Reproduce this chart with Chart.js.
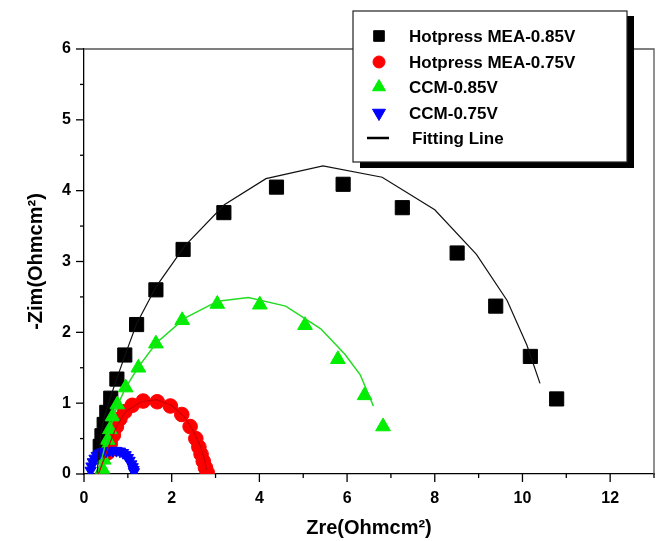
<!DOCTYPE html>
<html>
<head>
<meta charset="utf-8">
<script src="https://cdn.jsdelivr.net/npm/chart.js@4.4.1/dist/chart.umd.min.js"></script>
<style>
html,body{margin:0;padding:0;background:#fff;}
#wrap{width:669px;height:541px;}
</style>
</head>
<body>
<div id="wrap"><canvas id="c" width="669" height="541"></canvas></div>
<script>
// ---- data ----
const seriesNames = ["Hotpress MEA-0.85V", "Hotpress MEA-0.75V", "CCM-0.85V", "CCM-0.75V", "Fitting Line"];

const mea085X = [10.78,10.18,9.39,8.51,7.26,5.91,4.39,3.19,2.26,1.64,1.20,0.93,0.75,0.61,0.52,0.46,0.41,0.37];
const mea085Y = [1.06,1.66,2.37,3.12,3.76,4.09,4.05,3.69,3.17,2.60,2.11,1.68,1.34,1.07,0.87,0.70,0.54,0.39];

const mea075X = [2.81,2.77,2.72,2.67,2.62,2.55,2.42,2.23,1.97,1.67,1.35,1.10,0.93,0.82,0.74,0.67,0.60,0.54];
const mea075Y = [0.02,0.09,0.18,0.28,0.38,0.50,0.67,0.84,0.96,1.02,1.03,0.97,0.88,0.78,0.67,0.55,0.43,0.30];

const ccm085X = [6.82,6.40,5.79,5.04,4.01,3.04,2.24,1.64,1.24,0.95,0.76,0.65,0.59,0.54,0.49,0.45,0.42];
const ccm085Y = [0.67,1.11,1.62,2.10,2.39,2.40,2.17,1.84,1.50,1.22,0.98,0.81,0.63,0.48,0.34,0.20,0.07];

const ccm075X = [0.15,0.17,0.20,0.24,0.29,0.35,0.42,0.50,0.58,0.66,0.74,0.82,0.89,0.95,1.00,1.04,1.08,1.11,1.13,1.14];
const ccm075Y = [0.05,0.11,0.17,0.22,0.26,0.29,0.31,0.32,0.33,0.33,0.33,0.32,0.30,0.27,0.23,0.19,0.14,0.10,0.06,0.03];

const fitMea085X = [0.30,0.34,0.40,0.50,0.60,0.75,0.95,1.20,1.65,2.30,3.20,4.15,5.45,6.80,8.00,8.95,9.65,10.10,10.40];
const fitMea085Y = [0.02,0.30,0.62,0.88,1.08,1.35,1.70,2.12,2.65,3.22,3.80,4.17,4.35,4.19,3.73,3.10,2.45,1.82,1.28];

const fitMea075X = [0.33,0.45,0.60,0.75,0.95,1.30,1.65,2.00,2.30,2.50,2.65,2.75,2.80];
const fitMea075Y = [0.00,0.20,0.45,0.68,0.88,1.02,1.05,0.97,0.80,0.60,0.40,0.20,0.05];

const fitCcm085X = [0.35,0.40,0.50,0.60,0.75,0.95,1.25,1.65,2.30,3.05,3.75,4.60,5.40,5.95,6.30,6.60];
const fitCcm085Y = [0.00,0.20,0.45,0.65,0.95,1.22,1.52,1.85,2.20,2.44,2.49,2.37,2.05,1.69,1.40,0.96];

const xTickLabels = ["0","2","4","6","8","10","12"];
const yTickLabels = ["0","1","2","3","4","5","6"];

// ---- helpers ----
const pts = (xs, ys) => xs.map((x, i) => ({x: x, y: ys[i]}));
const FONT = "'Liberation Sans', Arial, sans-serif";

const frameAndTicks = {
  id: 'frameAndTicks',
  afterDraw(chart) {
    const ctx = chart.ctx;
    const a = chart.chartArea;
    const xs = chart.scales.x, ys = chart.scales.y;
    ctx.save();
    ctx.strokeStyle = '#000';
    ctx.lineWidth = 1.3;
    // tick marks (outward)
    xs.ticks.forEach(t => {
      const px = xs.getPixelForValue(t.value);
      const major = xTickLabels.includes(String(t.value));
      ctx.beginPath();
      ctx.moveTo(px, a.bottom);
      ctx.lineTo(px, a.bottom + (major ? 8 : 4));
      ctx.stroke();
    });
    ys.ticks.forEach(t => {
      const py = ys.getPixelForValue(t.value);
      const major = yTickLabels.includes(String(t.value));
      ctx.beginPath();
      ctx.moveTo(a.left, py);
      ctx.lineTo(a.left - (major ? 8 : 4), py);
      ctx.stroke();
    });
    // top and right frame
    ctx.strokeStyle = '#555';
    ctx.lineWidth = 1.3;
    ctx.beginPath();
    ctx.moveTo(a.left, a.top);
    ctx.lineTo(a.right, a.top);
    ctx.lineTo(a.right, a.bottom);
    ctx.stroke();

    // legend box with shadow
    const L = 353, T = 11, R = 627, B = 162;
    ctx.fillStyle = '#000';
    ctx.fillRect(L + 7, T + 5, R - L, B - T + 1);
    ctx.fillStyle = '#fff';
    ctx.fillRect(L, T, R - L, B - T);
    ctx.strokeStyle = '#222';
    ctx.lineWidth = 1.2;
    ctx.strokeRect(L, T, R - L, B - T);

    const rows = [36, 62, 87, 113, 138];
    const mx = 379;
    const styles = [
      {style: 'rect', color: '#000', r: 7.5, rot: 0},
      {style: 'circle', color: '#ff0000', r: 6, rot: 0},
      {style: 'triangle', color: '#00ee00', r: 7.5, rot: 0},
      {style: 'triangle', color: '#0000ff', r: 7.5, rot: 180},
      {style: 'line'}
    ];
    ctx.font = "bold 17px " + FONT;
    ctx.textBaseline = 'middle';
    ctx.textAlign = 'left';
    styles.forEach((s, i) => {
      const y = rows[i];
      if (s.style === 'line') {
        ctx.strokeStyle = '#000';
        ctx.lineWidth = 2.5;
        ctx.beginPath();
        ctx.moveTo(367, y);
        ctx.lineTo(389, y);
        ctx.stroke();
      } else {
        ctx.fillStyle = s.color;
        ctx.strokeStyle = s.color;
        ctx.lineWidth = 1;
        Chart.helpers.drawPoint(ctx, {pointStyle: s.style, radius: s.r, rotation: s.rot, borderWidth: 1}, mx, y);
      }
      ctx.fillStyle = '#000';
      ctx.fillText(seriesNames[i], i === 4 ? 412 : 409, y + 1);
    });
    ctx.restore();
  }
};

new Chart(document.getElementById('c'), {
  type: 'scatter',
  data: {
    datasets: [
      {label: seriesNames[0], data: pts(mea085X, mea085Y), pointStyle: 'rect', pointRadius: 10, backgroundColor: '#000', borderColor: '#000', borderWidth: 1, order: 6},
      {label: seriesNames[1], data: pts(mea075X, mea075Y), pointStyle: 'circle', pointRadius: 7.3, backgroundColor: '#ff0000', borderColor: '#ff0000', borderWidth: 1, order: 5},
      {label: seriesNames[2], data: pts(ccm085X, ccm085Y), pointStyle: 'triangle', pointRadius: 8.5, backgroundColor: '#00ee00', borderColor: '#00ee00', borderWidth: 1, order: 4},
      {label: seriesNames[3], data: pts(ccm075X, ccm075Y), pointStyle: 'triangle', rotation: 180, pointRadius: 6.5, backgroundColor: '#0000ff', borderColor: '#0000ff', borderWidth: 1, order: 3},
      {label: 'fit1', data: pts(fitMea085X, fitMea085Y), showLine: true, pointRadius: 0, borderColor: '#111', borderWidth: 1.2, tension: 0, order: 1},
      {label: 'fit2', data: pts(fitMea075X, fitMea075Y), showLine: true, pointRadius: 0, borderColor: '#cc0000', borderWidth: 1.2, tension: 0, order: 1},
      {label: 'fit3', data: pts(fitCcm085X, fitCcm085Y), showLine: true, pointRadius: 0, borderColor: '#22dd22', borderWidth: 1.5, tension: 0, order: 1}
    ]
  },
  options: {
    responsive: false,
    animation: false,
    events: [],
    layout: {padding: {left: 0, top: 49, right: 8, bottom: 0}},
    plugins: {legend: {display: false}, tooltip: {enabled: false}},
    scales: {
      x: {
        type: 'linear', min: 0, max: 13,
        afterFit(s) { s.height = 67; },
        grid: {display: false, drawTicks: false},
        border: {display: true, color: '#000', width: 1.3},
        ticks: {
          stepSize: 1, autoSkip: false, padding: 15, color: '#000', maxRotation: 0,
          font: {family: FONT, size: 16, weight: 'bold'},
          callback: v => xTickLabels.includes(String(v)) ? String(v) : ''
        },
        title: {display: true, text: 'Zre(Ohmcm²)', color: '#000', padding: {top: 0, bottom: 1},
          font: {family: FONT, size: 20, weight: 'bold'}}
      },
      y: {
        type: 'linear', min: 0, max: 6,
        afterFit(s) { s.width = 84; },
        grid: {display: false, drawTicks: false},
        border: {display: true, color: '#000', width: 1.3},
        ticks: {
          stepSize: 0.5, autoSkip: false, padding: 13, color: '#000',
          font: {family: FONT, size: 16, weight: 'bold'},
          callback: v => yTickLabels.includes(String(v)) ? String(v) : ''
        },
        title: {display: true, text: '-Zim(Ohmcm²)', color: '#000', padding: {top: 24, bottom: 0},
          font: {family: FONT, size: 20, weight: 'bold'}}
      }
    }
  },
  plugins: [frameAndTicks]
});
</script>
</body>
</html>
